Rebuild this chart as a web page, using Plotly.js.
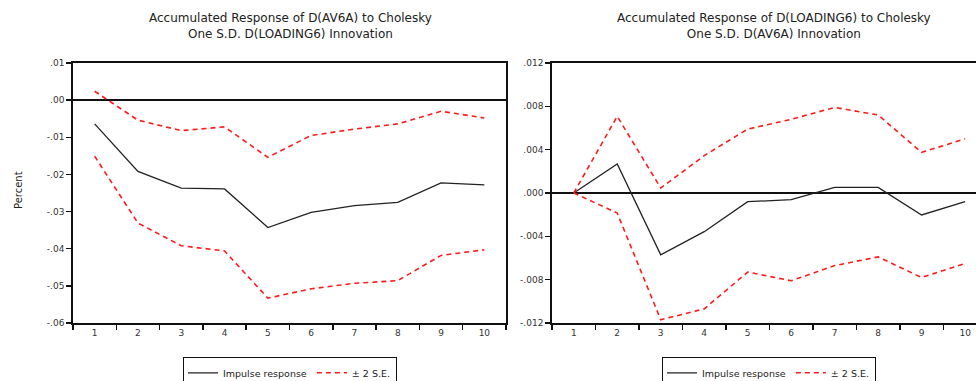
<!DOCTYPE html>
<html><head><meta charset="utf-8">
<script src="https://cdn.plot.ly/plotly-3.0.1.min.js"></script>
<style>html,body{margin:0;padding:0;background:#fff;overflow:hidden}#chart{width:976px;height:400px}</style>
</head><body><div id="chart"></div>
<script>
const periods = ['1','2','3','4','5','6','7','8','9','10'];
// Left: Accumulated response of D(AV6A) to D(LOADING6)
const leftImpulse = [-0.0064,-0.0192,-0.0237,-0.0239,-0.0343,-0.0302,-0.0284,-0.0275,-0.0223,-0.0228];
const leftUpper   = [0.0024,-0.0054,-0.0082,-0.0072,-0.0154,-0.0095,-0.0078,-0.0064,-0.0030,-0.0048];
const leftLower   = [-0.0151,-0.0331,-0.0392,-0.0406,-0.0533,-0.0508,-0.0493,-0.0486,-0.0418,-0.0403];
// Right: Accumulated response of D(LOADING6) to D(AV6A)
const rightImpulse = [0.0,0.00268,-0.0057,-0.00357,-0.0008,-0.00062,0.00052,0.00052,-0.00203,-0.0008];
const rightUpper   = [0.0,0.00708,0.00046,0.00345,0.0059,0.0068,0.0079,0.0072,0.00375,0.0050];
const rightLower   = [0.0,-0.00185,-0.0117,-0.0107,-0.0073,-0.0081,-0.0067,-0.0059,-0.0078,-0.0065];
const leftTickVals = [0.01,0.0,-0.01,-0.02,-0.03,-0.04,-0.05,-0.06];
const leftTickText = ['.01','.00','-.01','-.02','-.03','-.04','-.05','-.06'];
const rightTickVals = [0.012,0.008,0.004,0.0,-0.004,-0.008,-0.012];
const rightTickText = ['.012','.008','.004','.000','-.004','-.008','-.012'];
const leftTitle = 'Accumulated Response of D(AV6A) to Cholesky<br>One S.D. D(LOADING6) Innovation';
const rightTitle = 'Accumulated Response of D(LOADING6) to Cholesky<br>One S.D. D(AV6A) Innovation';
const impulseName = 'Impulse response';
const seName = '± 2 S.E.';

const W = 976, H = 400;
const px = v => v / W, py = v => 1 - v / H;
const FONT = 'DejaVu Sans, Liberation Sans, sans-serif';
const solid = {color:'#222', width:1.3};
const dashed = {color:'#ff1a1a', width:1.6, dash:'5px,4px'};

const traces = [
  {x:periods, y:leftImpulse, type:'scatter', mode:'lines', line:solid, name:impulseName, xaxis:'x', yaxis:'y', legend:'legend'},
  {x:periods, y:leftUpper, type:'scatter', mode:'lines', line:dashed, name:seName, legendgroup:'se1', xaxis:'x', yaxis:'y', legend:'legend'},
  {x:periods, y:leftLower, type:'scatter', mode:'lines', line:dashed, name:seName, legendgroup:'se1', showlegend:false, xaxis:'x', yaxis:'y', legend:'legend'},
  {x:periods, y:rightImpulse, type:'scatter', mode:'lines', line:solid, name:impulseName, xaxis:'x2', yaxis:'y2', legend:'legend2'},
  {x:periods, y:rightUpper, type:'scatter', mode:'lines', line:dashed, name:seName, legendgroup:'se2', xaxis:'x2', yaxis:'y2', legend:'legend2'},
  {x:periods, y:rightLower, type:'scatter', mode:'lines', line:dashed, name:seName, legendgroup:'se2', showlegend:false, xaxis:'x2', yaxis:'y2', legend:'legend2'}
];

const tickFont = {family:FONT, size:9, color:'#333'};
const xBase = {type:'category', tickson:'boundaries', ticks:'outside', ticklen:5, tickwidth:1.5, tickcolor:'#111',
  showline:true, linecolor:'#111', linewidth:1.8, showgrid:false, zeroline:false, tickfont:tickFont, fixedrange:true};
const yBase = {ticks:'outside', ticklen:5, tickwidth:1.5, tickcolor:'#111', showline:true, linecolor:'#111', linewidth:1.8,
  showgrid:false, zeroline:true, zerolinecolor:'#111', zerolinewidth:2, tickfont:tickFont};
const legendBase = {orientation:'h', xanchor:'center', y:py(357), yanchor:'top', bordercolor:'#111', borderwidth:1.3,
  font:{family:FONT, size:9.5, color:'#222'}, itemwidth:30, tracegroupgap:0, bgcolor:'#fff'};

const layout = {
  width:W, height:H, margin:{l:0,r:0,t:0,b:0}, paper_bgcolor:'#fff', plot_bgcolor:'#fff',
  showlegend:true,
  xaxis: Object.assign({}, xBase, {domain:[px(73), px(506)], range:[-0.5, 9.5], mirror:true, anchor:'y'}),
  yaxis: Object.assign({}, yBase, {domain:[py(323), py(63)], range:[-0.06, 0.01], tickvals:leftTickVals, ticktext:leftTickText, mirror:true, anchor:'x'}),
  xaxis2: Object.assign({}, xBase, {domain:[px(552), 1], range:[-0.5, 9.25], mirror:true, anchor:'y2'}),
  yaxis2: Object.assign({}, yBase, {domain:[py(323), py(63)], range:[-0.012, 0.012], tickvals:rightTickVals, ticktext:rightTickText, anchor:'x2'}),
  legend: Object.assign({}, legendBase, {x:px(290)}),
  legend2: Object.assign({}, legendBase, {x:px(769)}),
  annotations: [
    {text:leftTitle, xref:'paper', yref:'paper', x:px(290), y:py(26), xanchor:'center', yanchor:'middle', showarrow:false,
     font:{family:FONT, size:12, color:'#222'}},
    {text:rightTitle, xref:'paper', yref:'paper', x:px(774), y:py(26), xanchor:'center', yanchor:'middle', showarrow:false,
     font:{family:FONT, size:12, color:'#222'}},
    {text:'Percent', xref:'paper', yref:'paper', x:px(18), y:py(190), xanchor:'center', yanchor:'middle', textangle:-90, showarrow:false,
     font:{family:FONT, size:10, color:'#222'}}
  ]
};
Plotly.newPlot('chart', traces, layout, {displayModeBar:false, staticPlot:true});
</script></body></html>
